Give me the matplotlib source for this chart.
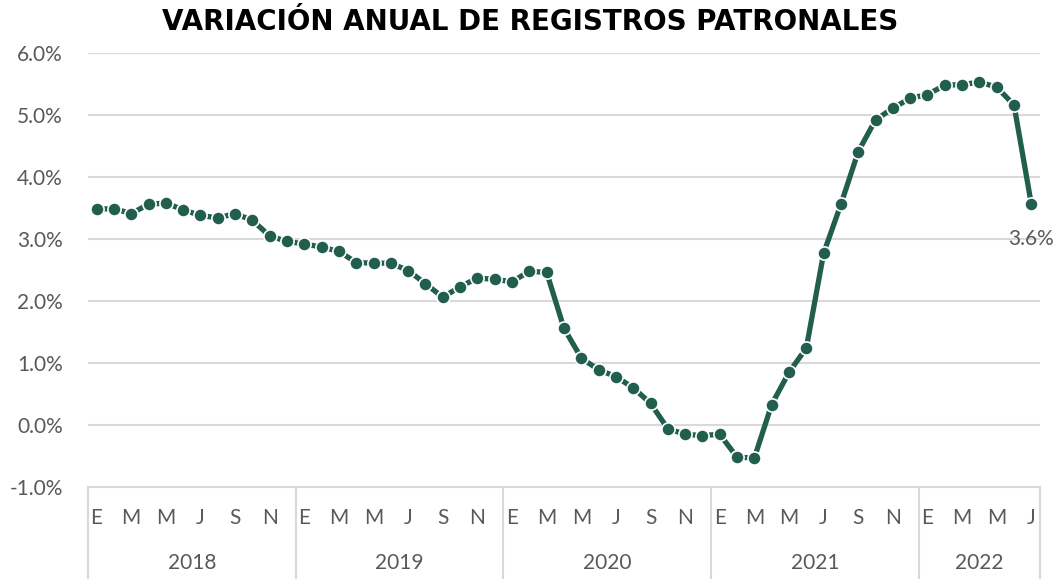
import matplotlib.pyplot as plt
from matplotlib.transforms import blended_transform_factory

# monthly year-over-year change, Jan 2018 - Jul 2022 (%)
years = ['2018', '2019', '2020', '2021', '2022']
months_per_year = [12, 12, 12, 12, 7]
month_initials = ['E', 'F', 'M', 'A', 'M', 'J', 'J', 'A', 'S', 'O', 'N', 'D']
values = [
    3.48, 3.49, 3.41, 3.56, 3.58, 3.47, 3.38, 3.34, 3.41, 3.30, 3.05, 2.96,
    2.92, 2.87, 2.80, 2.62, 2.61, 2.61, 2.49, 2.28, 2.06, 2.23, 2.37, 2.35,
    2.31, 2.48, 2.46, 1.56, 1.08, 0.89, 0.78, 0.60, 0.35, -0.06, -0.15, -0.17,
    -0.15, -0.52, -0.53, 0.33, 0.85, 1.24, 2.77, 3.56, 4.41, 4.92, 5.11, 5.27,
    5.33, 5.48, 5.49, 5.53, 5.45, 5.16, 3.56,
]

green = '#215E4D'
grid_gray = '#D9D9D9'
text_gray = '#595959'
font = ['Lato', 'DejaVu Sans']
tick_kw = dict(fontsize=15, color=text_gray, family=font)

fig = plt.figure(figsize=(10.61, 5.79), dpi=100)
ax = fig.add_axes([0.0829, 0.1589, 0.8973, 0.7496])

x = list(range(len(values)))
ax.plot(x, values, color=green, linewidth=3.8, marker='o', markersize=9.5,
        markerfacecolor=green, markeredgecolor='white', markeredgewidth=1.2,
        solid_capstyle='round', zorder=3)

ax.annotate(f'{values[-1]:.1f}%', (x[-1], values[-1]), xytext=(0, -25),
            textcoords='offset points', ha='center', va='center', **tick_kw)

ax.set_xlim(-0.5, len(values) - 0.5)
ax.set_ylim(-1, 6)
ax.set_yticks([-1, 0, 1, 2, 3, 4, 5, 6])
ax.set_yticklabels([f'{v:.1f}%' for v in range(-1, 7)], **tick_kw)
ax.yaxis.grid(True, color=grid_gray, linewidth=1.5)
ax.set_axisbelow(True)
ax.tick_params(axis='y', length=0, pad=18)

# month ticks, every other month
ticks, labels = [], []
pos = 0
for n in months_per_year:
    for m in range(0, n, 2):
        ticks.append(pos + m)
        labels.append(month_initials[m])
    pos += n
ax.set_xticks(ticks)
ax.set_xticklabels(labels, **tick_kw)
ax.tick_params(axis='x', length=0, pad=15)

for s in ['top', 'right', 'left']:
    ax.spines[s].set_visible(False)
ax.spines['bottom'].set_color(grid_gray)
ax.spines['bottom'].set_linewidth(1.5)

# year group separators and labels
tr = blended_transform_factory(ax.transData, ax.transAxes)
start = 0
bounds = [-0.5]
for yr, n in zip(years, months_per_year):
    ax.text(start + (n - 1) / 2, -0.175, yr, transform=tr, ha='center',
            va='center', **tick_kw)
    start += n
    bounds.append(start - 0.5)
for b in bounds:
    ax.plot([b, b], [0, -0.215], transform=tr, color=grid_gray,
            linewidth=1.5, clip_on=False)

fig.text(0.5, 0.962, 'VARIACIÓN ANUAL DE REGISTROS PATRONALES', ha='center',
         va='center', fontsize=20, fontweight='bold', family=['DejaVu Sans'])

fig.savefig('out.png', dpi=100)
